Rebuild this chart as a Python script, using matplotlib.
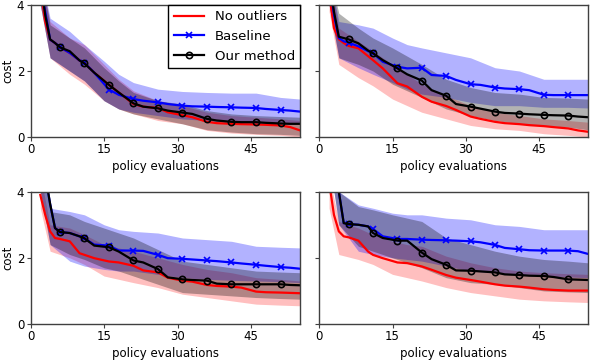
import matplotlib
matplotlib.use('Agg')
import matplotlib.pyplot as plt

# x positions of the mean curves and of the band edges
line_x = [2, 3, 4, 5, 6, 8, 10, 11, 13, 16, 18, 21, 23, 26, 28, 31, 33, 36, 38, 41, 43, 46, 48, 51, 53, 55]
band_x = [2, 4, 8, 11, 15, 18, 21, 26, 31, 36, 41, 46, 51, 55]
marker_x = [6, 11, 16, 21, 26, 31, 36, 41, 46, 51]

x_ticks = [0, 15, 30, 45]
y_ticks = [0, 2, 4]

# top left
tl_noout = [4.6, 3.5, 2.95, 2.85, 2.72, 2.55, 2.32, 2.25, 1.95, 1.58, 1.35, 1.0, 0.92, 0.88, 0.75, 0.66, 0.6, 0.46, 0.42, 0.40, 0.39, 0.38, 0.37, 0.35, 0.3, 0.2]
tl_base = [4.7, 3.8, 2.95, 2.85, 2.72, 2.55, 2.32, 2.25, 1.95, 1.44, 1.28, 1.15, 1.1, 1.05, 1.0, 0.95, 0.93, 0.92, 0.91, 0.9, 0.89, 0.88, 0.85, 0.82, 0.8, 0.77]
tl_ours = [4.8, 3.7, 2.96, 2.85, 2.72, 2.6, 2.32, 2.23, 1.95, 1.58, 1.35, 1.02, 0.92, 0.87, 0.8, 0.74, 0.7, 0.55, 0.5, 0.46, 0.45, 0.45, 0.43, 0.41, 0.4, 0.4]
tl_noout_hi = [5.0, 3.5, 3.0, 2.8, 2.2, 1.75, 1.4, 1.1, 0.95, 0.75, 0.65, 0.6, 0.55, 0.5]
tl_noout_lo = [4.0, 2.4, 1.9, 1.6, 1.1, 0.85, 0.7, 0.5, 0.4, 0.2, 0.12, 0.08, 0.05, 0.0]
tl_base_hi = [5.0, 3.6, 3.2, 2.8, 2.3, 1.9, 1.65, 1.45, 1.38, 1.35, 1.33, 1.33, 1.2, 1.15]
tl_base_lo = [4.0, 2.4, 2.0, 1.7, 1.1, 0.85, 0.75, 0.65, 0.55, 0.5, 0.45, 0.42, 0.4, 0.4]
tl_ours_hi = [5.0, 3.4, 3.0, 2.7, 2.1, 1.7, 1.35, 1.1, 1.0, 0.8, 0.7, 0.65, 0.62, 0.6]
tl_ours_lo = [4.0, 2.4, 2.0, 1.7, 1.1, 0.85, 0.7, 0.55, 0.4, 0.22, 0.15, 0.1, 0.08, 0.05]

# top right
tr_noout = [4.4, 3.3, 2.96, 2.85, 2.76, 2.69, 2.45, 2.33, 2.08, 1.63, 1.53, 1.22, 1.07, 0.94, 0.82, 0.62, 0.55, 0.46, 0.42, 0.39, 0.36, 0.33, 0.3, 0.26, 0.2, 0.16]
tr_base = [4.8, 3.7, 3.0, 2.9, 2.86, 2.75, 2.6, 2.54, 2.28, 2.13, 2.08, 2.1, 1.88, 1.85, 1.73, 1.6, 1.58, 1.5, 1.47, 1.45, 1.42, 1.28, 1.27, 1.27, 1.27, 1.27]
tr_ours = [4.9, 3.8, 3.04, 3.0, 2.96, 2.84, 2.62, 2.54, 2.33, 2.08, 1.9, 1.71, 1.42, 1.25, 1.0, 0.92, 0.86, 0.77, 0.73, 0.71, 0.69, 0.67, 0.66, 0.65, 0.62, 0.6]
tr_noout_hi = [5.0, 3.3, 2.9, 2.6, 2.2, 1.9, 1.6, 1.25, 0.95, 0.75, 0.65, 0.55, 0.5, 0.45]
tr_noout_lo = [3.8, 2.2, 1.8, 1.55, 1.15, 0.95, 0.75, 0.55, 0.35, 0.25, 0.2, 0.1, 0.05, 0.0]
tr_base_hi = [5.0, 3.5, 3.4, 3.3, 3.0, 2.8, 2.7, 2.55, 2.4, 2.1, 2.0, 1.75, 1.75, 1.75]
tr_base_lo = [4.0, 2.4, 2.1, 1.9, 1.65, 1.45, 1.3, 1.2, 1.05, 0.95, 0.95, 0.9, 0.9, 0.88]
tr_ours_hi = [5.0, 3.75, 3.3, 3.0, 2.7, 2.45, 2.2, 1.75, 1.5, 1.35, 1.3, 1.2, 1.18, 1.15]
tr_ours_lo = [4.0, 2.4, 2.2, 2.0, 1.6, 1.4, 1.2, 0.85, 0.65, 0.5, 0.4, 0.35, 0.3, 0.22]

# bottom left
bl_noout = [3.9, 3.3, 2.8, 2.6, 2.57, 2.5, 2.14, 2.09, 1.99, 1.89, 1.86, 1.76, 1.62, 1.56, 1.4, 1.31, 1.28, 1.18, 1.15, 1.13, 1.1, 0.98, 0.96, 0.95, 0.94, 0.93]
bl_base = [5.5, 4.5, 3.63, 2.9, 2.78, 2.75, 2.65, 2.59, 2.4, 2.37, 2.22, 2.22, 2.21, 2.09, 1.99, 1.97, 1.95, 1.92, 1.9, 1.86, 1.83, 1.79, 1.76, 1.72, 1.7, 1.67]
bl_ours = [5.5, 4.5, 3.63, 2.9, 2.78, 2.75, 2.65, 2.59, 2.37, 2.32, 2.19, 1.92, 1.86, 1.66, 1.41, 1.35, 1.33, 1.31, 1.22, 1.2, 1.2, 1.2, 1.2, 1.2, 1.18, 1.17]
bl_noout_hi = [4.5, 3.0, 2.9, 2.7, 2.4, 2.3, 2.2, 2.0, 1.8, 1.65, 1.55, 1.4, 1.35, 1.3]
bl_noout_lo = [3.5, 2.2, 2.0, 1.8, 1.45, 1.35, 1.25, 1.1, 0.9, 0.8, 0.7, 0.6, 0.57, 0.55]
bl_base_hi = [5.0, 3.5, 3.4, 3.3, 3.0, 2.85, 2.8, 2.75, 2.6, 2.55, 2.5, 2.35, 2.32, 2.3]
bl_base_lo = [4.0, 2.4, 1.9, 1.75, 1.65, 1.6, 1.6, 1.5, 1.4, 1.35, 1.32, 1.3, 1.28, 1.25]
bl_ours_hi = [5.0, 3.4, 3.3, 3.1, 2.9, 2.75, 2.6, 2.25, 1.9, 1.8, 1.7, 1.6, 1.57, 1.55]
bl_ours_lo = [4.0, 2.4, 2.1, 1.95, 1.7, 1.6, 1.45, 1.2, 0.95, 0.9, 0.85, 0.8, 0.77, 0.75]

# bottom right
br_noout = [4.3, 3.3, 2.8, 2.65, 2.62, 2.52, 2.19, 2.09, 1.99, 1.86, 1.84, 1.74, 1.64, 1.48, 1.4, 1.33, 1.28, 1.2, 1.16, 1.13, 1.1, 1.05, 1.03, 1.01, 1.01, 1.01]
br_base = [6.0, 5.0, 4.0, 3.05, 3.02, 3.0, 2.95, 2.87, 2.65, 2.57, 2.57, 2.55, 2.54, 2.53, 2.52, 2.5, 2.47, 2.39, 2.3, 2.26, 2.23, 2.22, 2.22, 2.22, 2.2, 2.12]
br_ours = [6.0, 5.0, 4.0, 3.05, 3.02, 3.0, 2.95, 2.75, 2.6, 2.52, 2.52, 2.16, 1.96, 1.79, 1.62, 1.61, 1.59, 1.56, 1.5, 1.48, 1.46, 1.45, 1.42, 1.35, 1.34, 1.33]
br_noout_hi = [4.5, 3.1, 2.9, 2.7, 2.5, 2.4, 2.35, 2.05, 1.85, 1.7, 1.6, 1.55, 1.52, 1.5]
br_noout_lo = [3.5, 2.1, 1.95, 1.8, 1.5, 1.4, 1.3, 1.1, 0.95, 0.85, 0.75, 0.7, 0.67, 0.65]
br_base_hi = [5.0, 4.0, 3.6, 3.5, 3.35, 3.3, 3.3, 3.2, 3.15, 3.0, 2.95, 2.85, 2.85, 2.85]
br_base_lo = [5.0, 3.0, 2.2, 2.1, 2.0, 1.95, 1.9, 1.75, 1.6, 1.55, 1.5, 1.45, 1.42, 1.4]
br_ours_hi = [5.0, 4.0, 3.55, 3.45, 3.3, 3.2, 3.1, 2.6, 2.4, 2.2, 2.05, 1.95, 1.9, 1.85]
br_ours_lo = [5.0, 3.0, 2.35, 2.2, 2.0, 1.85, 1.7, 1.4, 1.25, 1.2, 1.1, 1.0, 0.97, 0.95]

panels = [
    (tl_noout, tl_base, tl_ours, tl_noout_lo, tl_noout_hi, tl_base_lo, tl_base_hi, tl_ours_lo, tl_ours_hi),
    (tr_noout, tr_base, tr_ours, tr_noout_lo, tr_noout_hi, tr_base_lo, tr_base_hi, tr_ours_lo, tr_ours_hi),
    (bl_noout, bl_base, bl_ours, bl_noout_lo, bl_noout_hi, bl_base_lo, bl_base_hi, bl_ours_lo, bl_ours_hi),
    (br_noout, br_base, br_ours, br_noout_lo, br_noout_hi, br_base_lo, br_base_hi, br_ours_lo, br_ours_hi),
]

plt.rcParams['font.family'] = ['DejaVu Sans']
plt.rcParams['font.size'] = 8.5

fig = plt.figure(figsize=(5.9, 3.62), dpi=100)
ax_rects = [
    [0.0517, 0.6215, 0.457, 0.3646],
    [0.5412, 0.6215, 0.455, 0.3646],
    [0.0517, 0.105, 0.457, 0.3655],
    [0.5412, 0.105, 0.455, 0.3655],
]
mark_idx = [line_x.index(v) for v in marker_x]
spine_col = '0.25'

for i, (rect, data) in enumerate(zip(ax_rects, panels)):
    noout, base, ours, n_lo, n_hi, b_lo, b_hi, o_lo, o_hi = data
    ax = fig.add_axes(rect)
    ax.fill_between(band_x, n_lo, n_hi, color='red', alpha=0.25, lw=0)
    ax.fill_between(band_x, b_lo, b_hi, color='blue', alpha=0.3, lw=0)
    ax.fill_between(band_x, o_lo, o_hi, color='black', alpha=0.3, lw=0)
    ax.plot(line_x, noout, color='red', lw=1.6, label='No outliers')
    ax.plot(line_x, base, color='blue', lw=1.6, marker='x', ms=5, mew=1.2,
            markevery=mark_idx, label='Baseline')
    ax.plot(line_x, ours, color='black', lw=1.6, marker='o', ms=4.5, mew=1.2,
            mfc='none', markevery=mark_idx, label='Our method')
    ax.set_xlim(0, 55)
    ax.set_ylim(0, 4)
    ax.set_xticks(x_ticks)
    ax.set_yticks(y_ticks)
    ax.set_xlabel('policy evaluations', labelpad=2.5)
    if i % 2 == 0:
        ax.set_ylabel('cost', labelpad=2)
    else:
        ax.set_yticklabels([])
    for s in ax.spines.values():
        s.set_color(spine_col)
        s.set_linewidth(1.0)
    ax.tick_params(direction='out', length=3, width=0.8, color=spine_col, pad=1.5)
    if i == 0:
        leg = ax.legend(loc='upper right', fancybox=False, borderaxespad=0,
                        edgecolor='black', fontsize=9.5, handlelength=2.3,
                        framealpha=1)
        leg.get_frame().set_linewidth(1.0)

fig.savefig('out.png', dpi=100)
